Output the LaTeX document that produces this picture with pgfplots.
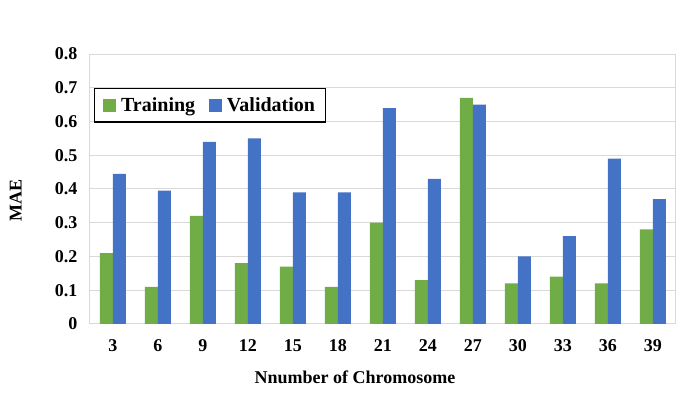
\documentclass[border=0pt]{standalone}
\usepackage{fontspec}
\setmainfont{Liberation Serif}
\usepackage{pgfplots}
\pgfplotsset{compat=1.18}
\definecolor{trgreen}{HTML}{70AD47}
\definecolor{vablue}{HTML}{4472C4}
\definecolor{gridgray}{HTML}{D9D9D9}
\begin{document}
\begin{tikzpicture}
\begin{axis}[
  at={(0,0)}, anchor=south west,
  scale only axis, width=438.75pt, height=202.5pt,
  ybar=0pt, bar width=9.75pt,
  xmin=-0.51, xmax=12.49, ymin=0, ymax=0.8,
  xtick={0,1,2,3,4,5,6,7,8,9,10,11,12},
  xticklabels={3,6,9,12,15,18,21,24,27,30,33,36,39},
  ytick={0,0.1,0.2,0.3,0.4,0.5,0.6,0.7,0.8},
  yticklabels={0,0.1,0.2,0.3,0.4,0.5,0.6,0.7,0.8},
  ymajorgrids, grid style={gridgray, line width=0.75pt},
  axis line style={gridgray, line width=0.75pt},
  major tick length=0pt,
  tick label style={font=\fontsize{13.5}{16}\selectfont\bfseries},
  xticklabel style={anchor=north, yshift=-8pt},
  yticklabel style={anchor=east, xshift=-6pt},
  xlabel={Nnumber of Chromosome},
  ylabel={MAE},
  label style={font=\fontsize{13.5}{16}\selectfont\bfseries},
  xlabel style={at={(axis description cs:0.453,-0.222)}, anchor=base},
  ylabel style={at={(axis description cs:-0.127,0.459)}, anchor=center, rotate=0},
  legend columns=2,
  legend style={at={(axis description cs:0.007,0.874)}, anchor=north west,
    draw=black, line width=1pt, font=\fontsize{15}{18}\selectfont\bfseries,
    inner xsep=6pt, inner ysep=4.5pt,
    /tikz/every odd column/.append style={column sep=2pt},
    /tikz/every even column/.append style={column sep=8pt}},
  legend image code/.code={\fill[#1, draw=none] (0pt,-4.9pt) rectangle (9.75pt,4.9pt);},
]
\addplot[fill=trgreen, draw=none] coordinates {
(0,0.21) (1,0.11) (2,0.32) (3,0.18) (4,0.17) (5,0.11) (6,0.30) (7,0.13) (8,0.67) (9,0.12) (10,0.14) (11,0.12) (12,0.28)};
\addlegendentry{Training}
\addplot[fill=vablue, draw=none] coordinates {
(0,0.445) (1,0.395) (2,0.54) (3,0.55) (4,0.39) (5,0.39) (6,0.64) (7,0.43) (8,0.65) (9,0.20) (10,0.26) (11,0.49) (12,0.37)};
\addlegendentry{Validation}
\end{axis}
\pgfresetboundingbox
\path[use as bounding box] (-67.5pt,-55.5pt) rectangle (457.5pt,243pt);
\end{tikzpicture}
\end{document}
